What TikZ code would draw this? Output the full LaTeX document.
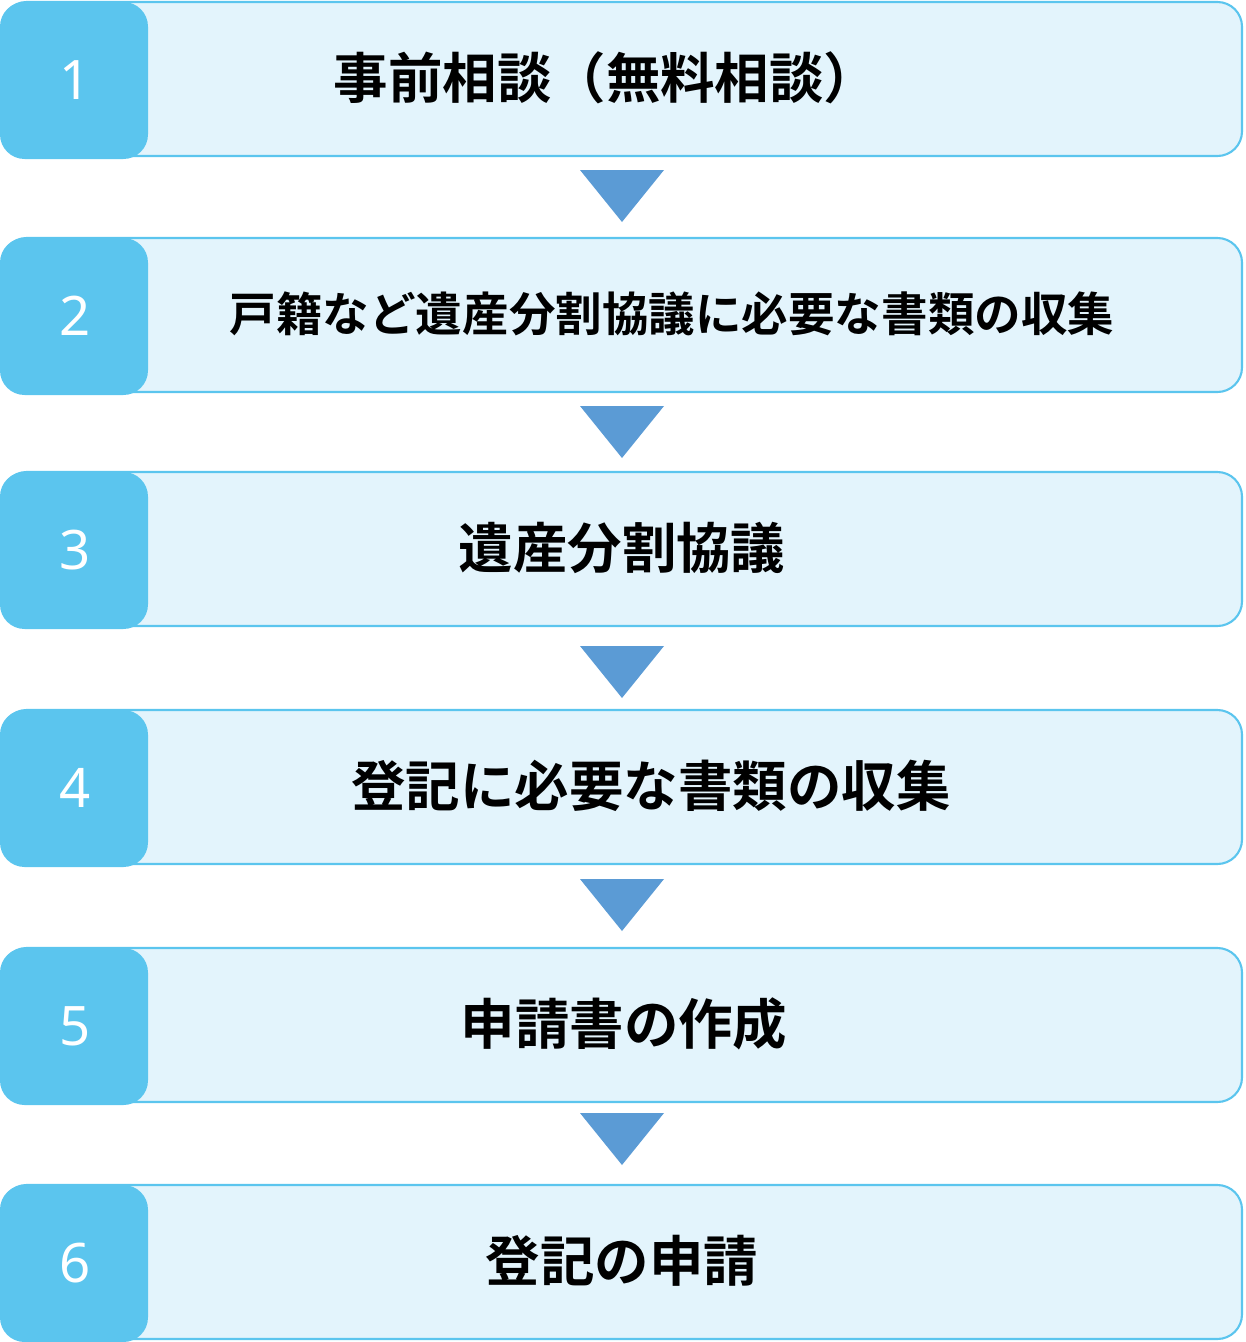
\documentclass[tikz,border=0pt]{standalone}
\usepackage{fontspec}
\setmainfont{Noto Sans}
\newfontfamily\cjk{Noto Sans CJK JP}[BoldFont={* Bold}]
\usetikzlibrary{positioning}
\definecolor{stepfill}{HTML}{E3F4FC}
\definecolor{stepline}{HTML}{5BC5EE}
\definecolor{arrowblue}{HTML}{5B9BD5}
\begin{document}
\begin{tikzpicture}[
    x=0.02cm, y=-0.02cm,
    stepbox/.style={draw=stepline, line width=1.2pt, fill=stepfill, rounded corners=14pt},
    numtab/.style={fill=stepline, rounded corners=14pt},
    numtext/.style={text=white, font=\bfseries\fontsize{31}{31}\selectfont},
    steptext/.style={font=\cjk\bfseries\fontsize{#1}{#1}\selectfont}
    ]
    \useasboundingbox (0,0) rectangle (1245,1342);
    % step boxes
    \foreach \n/\top/\cx/\fs/\txt in {
        1/2/606/31/事前相談（無料相談）,
        2/238/672/26.5/戸籍など遺産分割協議に必要な書類の収集,
        3/472/622/31/遺産分割協議,
        4/710/651/31/登記に必要な書類の収集,
        5/948/624/31/申請書の作成,
        6/1185/622/31/登記の申請}{
        \draw[stepbox] (2,\top) rectangle (1242,\top+154);
        \fill[numtab] (0,\top) rectangle (148,\top+157);
        \node[numtext] (num\n) at (75,\top+78) {\n};
        \node[steptext=\fs] (label\n) at (\cx,\top+76) {\txt};
    }
    % arrows between steps
    \foreach \top in {170,406,646,879,1113}{
        \fill[arrowblue] (580,\top) -- (664,\top) -- (622,\top+52) -- cycle;
    }
\end{tikzpicture}
\end{document}
